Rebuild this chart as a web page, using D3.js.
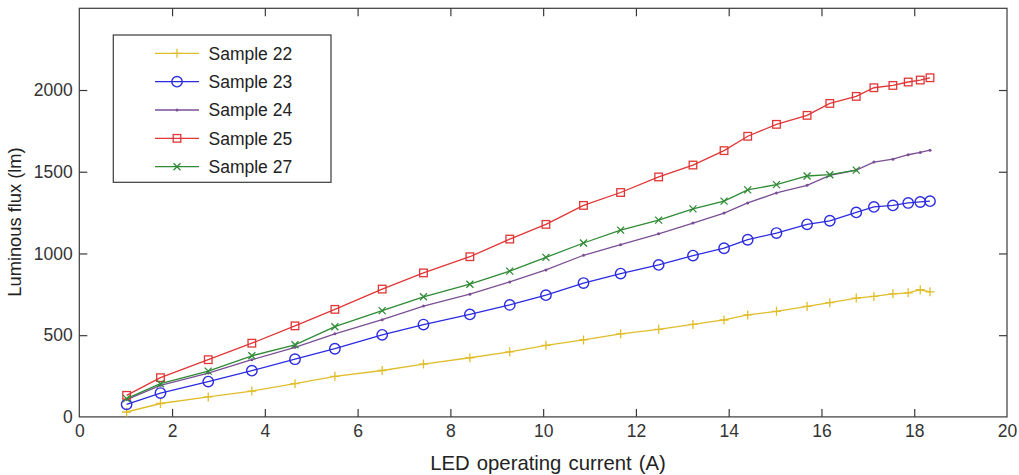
<!DOCTYPE html>
<html>
<head>
<meta charset="utf-8">
<script src="https://cdn.jsdelivr.net/npm/d3@7/dist/d3.min.js"></script>
<style>
  html, body { margin: 0; padding: 0; background: #fff; }
  svg { display: block; font-family: "Liberation Sans", Arial, sans-serif; }
</style>
</head>
<body>
<svg id="chart" width="1019" height="475"></svg>
<script>
// ---- data ----
const current = [1.02, 1.75, 2.78, 3.72, 4.65, 5.51, 6.53, 7.42, 8.42, 9.28, 10.06, 10.87, 11.67, 12.49, 13.23, 13.90, 14.41, 15.03, 15.69, 16.18, 16.75, 17.13, 17.54, 17.87, 18.13, 18.34];
const sample22 = [30, 82, 122, 158, 203, 248, 284, 323, 362, 398, 438, 471, 508, 536, 566, 593, 624, 646, 676, 699, 727, 737, 753, 759, 778, 765];
const sample23 = [77, 146, 216, 283, 353, 417, 502, 565, 627, 685, 745, 819, 877, 930, 987, 1032, 1084, 1125, 1178, 1200, 1251, 1285, 1294, 1309, 1315, 1320];
const sample24 = [106, 193, 268, 350, 426, 508, 595, 678, 751, 826, 899, 989, 1054, 1120, 1186, 1247, 1309, 1370, 1417, 1478, 1510, 1559, 1577, 1604, 1618, 1632];
const sample25 = [132, 240, 350, 451, 557, 658, 782, 881, 980, 1088, 1178, 1294, 1373, 1468, 1541, 1629, 1717, 1790, 1845, 1918, 1961, 2014, 2028, 2049, 2061, 2075];
const sample27 = [112, 203, 280, 374, 441, 552, 650, 735, 812, 892, 976, 1064, 1143, 1204, 1273, 1320, 1389, 1421, 1474, 1482, 1510];
const seriesNames = ["Sample 22", "Sample 23", "Sample 24", "Sample 25", "Sample 27"];
const xTicks = [0, 2, 4, 6, 8, 10, 12, 14, 16, 18, 20];
const yTicks = [0, 500, 1000, 1500, 2000];
const xLabel = "LED operating current (A)";
const yLabel = "Luminous flux (lm)";

const seriesValues = [sample22, sample23, sample24, sample25, sample27];
const colors = ["#e0bd2a", "#2b2be0", "#7b4f96", "#e03636", "#2e8b34"];
const markers = ["plus", "circle", "dot", "square", "cross"];

// ---- layout ----
const svg = d3.select("#chart");
const pLeft = 79.3, pRight = 1007, pTop = 8.3, pBottom = 416.9;
const x = d3.scaleLinear().domain([0, 20]).range([pLeft, pRight]);
const y = d3.scaleLinear().domain([0, 2500]).range([pBottom, pTop]);
const axisColor = "#3a3a3a";
const textColor = "#333";
const fontSize = 17.5;

// frame
svg.append("rect").attr("x", pLeft).attr("y", pTop)
  .attr("width", pRight - pLeft).attr("height", pBottom - pTop)
  .attr("fill", "none").attr("stroke", axisColor).attr("stroke-width", 1.2);

function styleAxis(g) {
  g.select(".domain").remove();
  g.selectAll(".tick line").attr("stroke", axisColor).attr("stroke-width", 1.2);
  g.selectAll(".tick text").attr("fill", textColor).attr("font-size", fontSize)
    .attr("font-family", "Liberation Sans, Arial, sans-serif");
}

// bottom axis (ticks inward)
svg.append("g").attr("transform", `translate(0,${pBottom})`)
  .call(d3.axisBottom(x).tickValues(xTicks).tickSizeInner(-8).tickSizeOuter(0).tickPadding(8).tickFormat(d3.format("d")))
  .call(styleAxis)
  .call(g => g.selectAll(".tick line").filter(d => d === 0 || d === 20).remove());
// top axis ticks
svg.append("g").attr("transform", `translate(0,${pTop})`)
  .call(d3.axisTop(x).tickValues(xTicks).tickSizeInner(-8).tickSizeOuter(0).tickFormat(""))
  .call(styleAxis)
  .call(g => g.selectAll(".tick line").filter(d => d === 0 || d === 20).remove());
// left axis
svg.append("g").attr("transform", `translate(${pLeft},0)`)
  .call(d3.axisLeft(y).tickValues(yTicks).tickSizeInner(-8).tickSizeOuter(0).tickPadding(6.5).tickFormat(d3.format("d")))
  .call(styleAxis)
  .call(g => g.selectAll(".tick line").filter(d => d === 0).remove());
// right axis ticks
svg.append("g").attr("transform", `translate(${pRight},0)`)
  .call(d3.axisRight(y).tickValues(yTicks).tickSizeInner(-8).tickSizeOuter(0).tickFormat(""))
  .call(styleAxis)
  .call(g => g.selectAll(".tick line").filter(d => d === 0).remove());

// axis labels
svg.append("text").attr("x", 548).attr("y", 470)
  .attr("text-anchor", "middle").attr("font-size", 20.3).attr("fill", "#222")
  .attr("word-spacing", 1.5)
  .text(xLabel);
svg.append("text").attr("transform", `translate(20.5,222) rotate(-90)`)
  .attr("text-anchor", "middle").attr("font-size", 18.3).attr("fill", "#222")
  .text(yLabel);

// marker drawing
function drawMarker(g, type, color) {
  if (type === "plus") {
    g.append("path").attr("d", "M-4.5,0H4.5M0,-4.5V4.5").attr("stroke", color).attr("stroke-width", 1.3).attr("fill", "none");
  } else if (type === "circle") {
    g.append("circle").attr("r", 5.2).attr("stroke", color).attr("stroke-width", 1.4).attr("fill", "none");
  } else if (type === "dot") {
    g.append("circle").attr("r", 1.5).attr("fill", color);
  } else if (type === "square") {
    g.append("rect").attr("x", -3.8).attr("y", -3.8).attr("width", 7.6).attr("height", 7.6)
      .attr("stroke", color).attr("stroke-width", 1.3).attr("fill", "none");
  } else if (type === "cross") {
    g.append("path").attr("d", "M-3.5,-3.5L3.5,3.5M-3.5,3.5L3.5,-3.5").attr("stroke", color).attr("stroke-width", 1.3).attr("fill", "none");
  }
}

const line = d3.line().x(d => x(d[0])).y(d => y(d[1]));
const plot = svg.append("g");
seriesValues.forEach((vals, i) => {
  const pts = vals.map((v, j) => [current[j], v]);
  plot.append("path").datum(pts).attr("d", line)
    .attr("fill", "none").attr("stroke", colors[i]).attr("stroke-width", 1.3);
  pts.forEach(p => {
    const g = plot.append("g").attr("transform", `translate(${x(p[0])},${y(p[1])})`);
    drawMarker(g, markers[i], colors[i]);
  });
});

// legend
const legend = svg.append("g");
legend.append("rect").attr("x", 113.3).attr("y", 35).attr("width", 217.7).attr("height", 147.3)
  .attr("fill", "#fff").attr("stroke", axisColor).attr("stroke-width", 1.2);
seriesNames.forEach((name, i) => {
  const cy = 53.3 + i * 28.35;
  legend.append("line").attr("x1", 155).attr("x2", 199).attr("y1", cy).attr("y2", cy)
    .attr("stroke", colors[i]).attr("stroke-width", 1.3);
  const g = legend.append("g").attr("transform", `translate(177,${cy})`);
  drawMarker(g, markers[i], colors[i]);
  legend.append("text").attr("x", 208.5).attr("y", cy + 6.2).attr("font-size", 17.5)
    .attr("fill", "#222").text(name);
});
</script>
</body>
</html>
